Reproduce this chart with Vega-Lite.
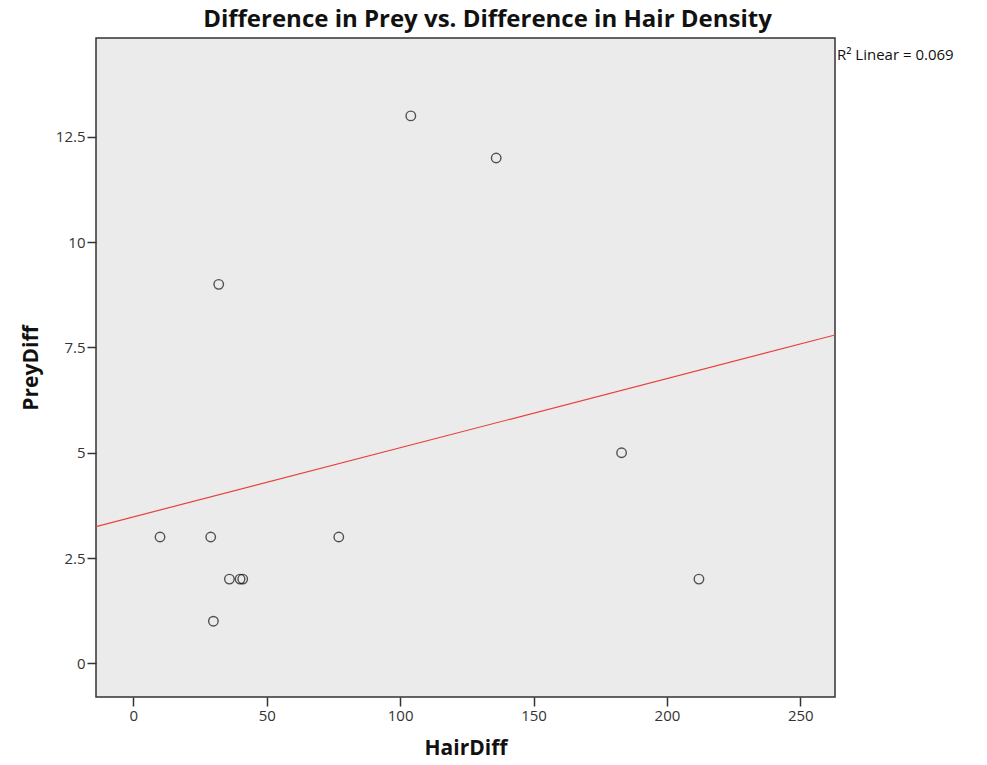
{
  "$schema": "https://vega.github.io/schema/vega-lite/v6.json",
  "autosize": {"type": "none"},
  "width": 739,
  "height": 659,
  "padding": {"left": 96, "top": 38, "right": 152, "bottom": 68},
  "background": "white",
  "title": {
    "text": "Difference in Prey vs. Difference in Hair Density",
    "font": "Open Sans",
    "fontSize": 24,
    "fontWeight": "bold",
    "color": "#111111",
    "anchor": "middle",
    "dx": 22,
    "offset": 6
  },
  "config": {
    "view": {"fill": "#ebebeb", "stroke": "#333333", "strokeWidth": 1.5},
    "axis": {
      "grid": false,
      "domain": false,
      "tickColor": "#333333",
      "tickSize": 9,
      "tickWidth": 1.5,
      "labelFont": "Open Sans",
      "labelFontSize": 15,
      "labelColor": "#333333",
      "titleFont": "Open Sans",
      "titleFontSize": 21,
      "titleFontWeight": "bold",
      "titleColor": "#111111"
    }
  },
  "data": {
    "values": [
      {"HairDiff": 10, "PreyDiff": 3},
      {"HairDiff": 29, "PreyDiff": 3},
      {"HairDiff": 32, "PreyDiff": 9},
      {"HairDiff": 30, "PreyDiff": 1},
      {"HairDiff": 36, "PreyDiff": 2},
      {"HairDiff": 40, "PreyDiff": 2},
      {"HairDiff": 41, "PreyDiff": 2},
      {"HairDiff": 77, "PreyDiff": 3},
      {"HairDiff": 104, "PreyDiff": 13},
      {"HairDiff": 136, "PreyDiff": 12},
      {"HairDiff": 183, "PreyDiff": 5},
      {"HairDiff": 212, "PreyDiff": 2}
    ]
  },
  "layer": [
    {
      "transform": [
        {"regression": "PreyDiff", "on": "HairDiff", "extent": [-14, 263]}
      ],
      "mark": {"type": "line", "color": "#e8413a", "strokeWidth": 1.2, "clip": true},
      "encoding": {
        "x": {"field": "HairDiff", "type": "quantitative"},
        "y": {"field": "PreyDiff", "type": "quantitative"}
      }
    },
    {
      "mark": {"type": "point", "shape": "circle", "filled": false, "color": "#111111", "size": 90, "strokeWidth": 1.4},
      "encoding": {
        "x": {
          "field": "HairDiff",
          "type": "quantitative",
          "scale": {"domain": [-14, 263], "nice": false, "zero": false},
          "axis": {"values": [0, 50, 100, 150, 200, 250], "title": "HairDiff", "titlePadding": 14, "labelPadding": 2}
        },
        "y": {
          "field": "PreyDiff",
          "type": "quantitative",
          "scale": {"domain": [-0.8, 14.85], "nice": false, "zero": false},
          "axis": {"values": [0, 2.5, 5, 7.5, 10, 12.5], "labelExpr": "'' + datum.value", "title": "PreyDiff", "titlePadding": 14, "labelPadding": 2}
        }
      }
    },
    {
      "data": {"values": [{"HairDiff": 263, "PreyDiff": 14.45, "label": "R² Linear = 0.069"}]},
      "mark": {"type": "text", "align": "left", "baseline": "middle", "dx": 2, "font": "Open Sans", "fontSize": 15, "color": "#111111", "clip": false},
      "encoding": {
        "x": {"field": "HairDiff", "type": "quantitative"},
        "y": {"field": "PreyDiff", "type": "quantitative"},
        "text": {"field": "label"}
      }
    }
  ]
}
